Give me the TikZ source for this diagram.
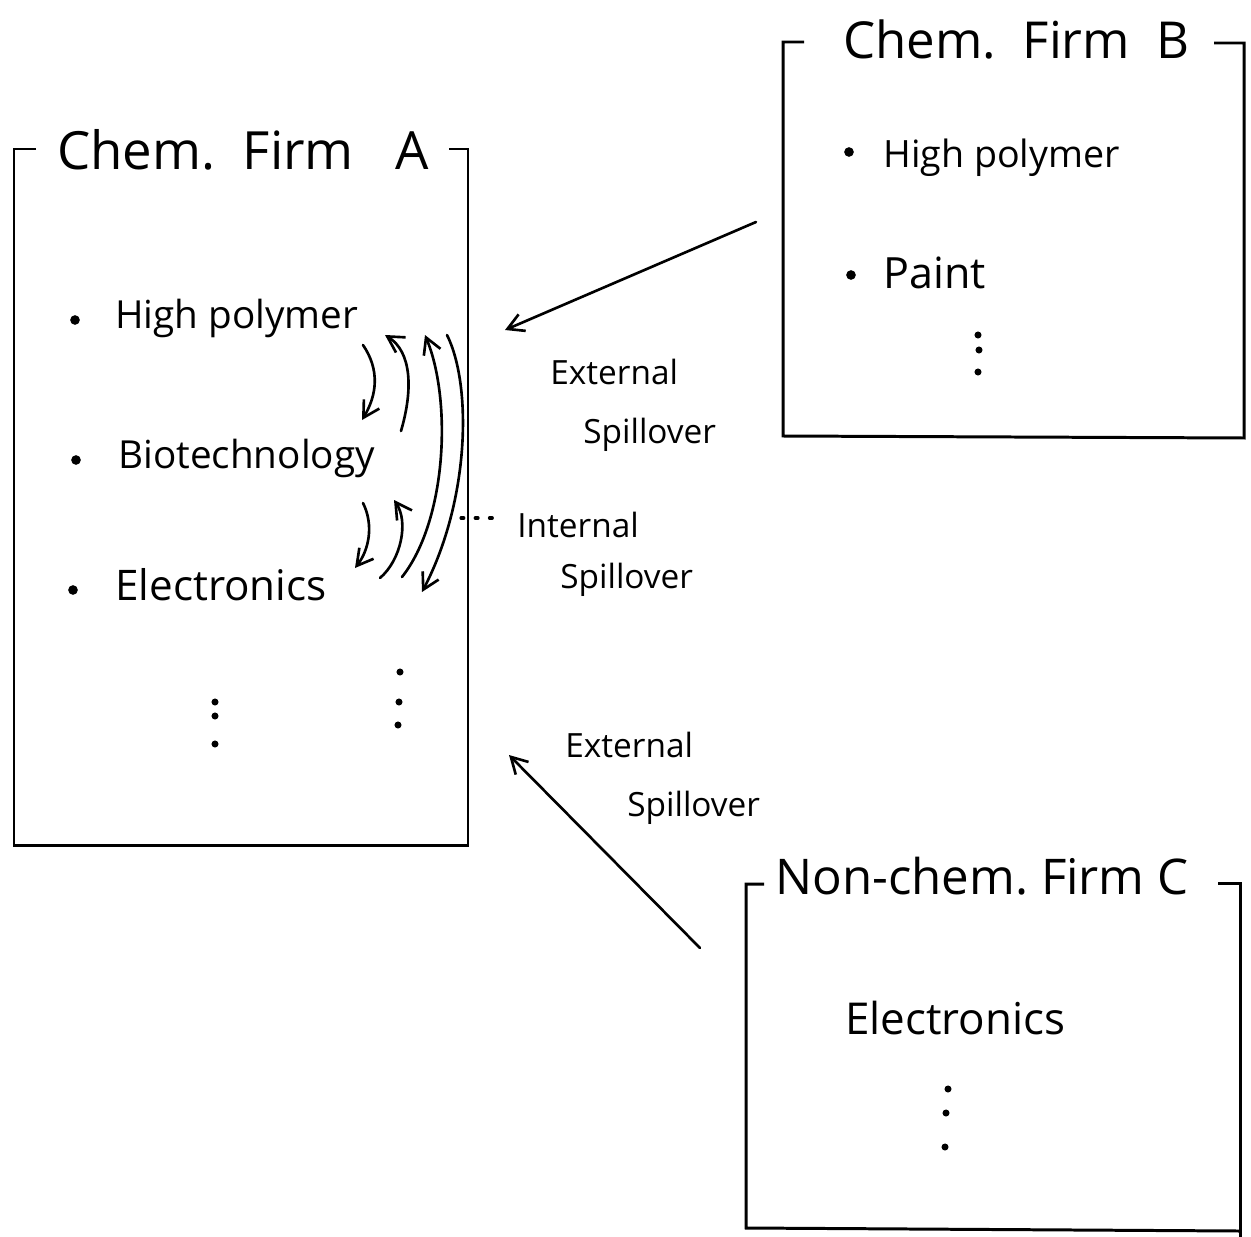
\documentclass[tikz,border=0pt]{standalone}
\usepackage{fontspec}
\setmainfont{Open Sans}
\usetikzlibrary{arrows.meta}
\begin{document}
\begin{tikzpicture}[x=0.02cm,y=-0.02cm,
  frame/.style={line width=1.7pt,line join=miter},
  hand/.style={line width=1.5pt,line cap=round},
  harrow/.style={hand,-{Straight Barb[length=3.2mm,width=3.6mm]}},
  title/.style={anchor=west,inner sep=0pt,font=\fontsize{30}{35}\selectfont},
  item/.style={anchor=west,inner sep=0pt,font=\fontsize{22}{26}\selectfont},
  lab/.style={anchor=west,inner sep=0pt,font=\fontsize{19}{23}\selectfont},
  bulletdot/.style={circle,fill,inner sep=0pt,minimum size=5.5pt},
  vdot/.style={circle,fill,inner sep=0pt,minimum size=4pt}]
\useasboundingbox (0,0) rectangle (1251,1237);

% ---------- Box A ----------
\draw[frame] (36,149) -- (14,149) -- (14,845) -- (468,845) -- (468,149) -- (449,149);
\node[title] (tA) at (57,150) {Chem.\ \ Firm\ \ \ A};
\node[bulletdot] (bA1) at (75,320) {};
\node[item] (hpA) at (115,318) {High polymer};
\node[bulletdot] (bA2) at (76,460) {};
\node[item] (bioA) at (118,458) {Biotechnology};
\node[bulletdot] (bA3) at (73,590) {};
\node[item,font=\fontsize{24}{28}\selectfont] (elA) at (115,585) {Electronics};
\node[vdot] (dA1) at (215,702) {};
\node[vdot] (dA2) at (215,716) {};
\node[vdot] (dA3) at (215,744) {};
\node[vdot] (dA4) at (400,672) {};
\node[vdot] (dA5) at (399,702) {};
\node[vdot] (dA6) at (398,725) {};

% internal spillover arrows
\coordinate (a1s) at (363,345); \coordinate (a1e) at (362,420);
\coordinate (a2s) at (401,431); \coordinate (a2e) at (385,335);
\coordinate (a3s) at (363,503); \coordinate (a3e) at (355,568);
\coordinate (a4s) at (380,578); \coordinate (a4e) at (394,500);
\coordinate (a5s) at (402,577); \coordinate (a5e) at (425,335);
\coordinate (a6s) at (447,335); \coordinate (a6e) at (422,592);
\draw[harrow] (a1s) .. controls (380,370) and (377,395) .. (a1e);
\draw[harrow] (a2s) .. controls (413,390) and (412,352) .. (a2e);
\draw[harrow] (a3s) .. controls (374,525) and (369,550) .. (a3e);
\draw[harrow] (a4s) .. controls (401,560) and (409,522) .. (a4e);
\draw[harrow] (a5s) .. controls (447,520) and (452,400) .. (a5e);
\draw[harrow] (a6s) .. controls (472,385) and (470,500) .. (a6e);

% internal spillover label
\coordinate (ds) at (461,518); \coordinate (de) at (501,518);
\draw[line width=1.8pt,dash pattern=on 1.6pt off 6.5pt,line cap=round] (ds) -- (de);
\node[lab] (int1) at (517,525) {Internal};
\node[lab] (int2) at (560,580) {Spillover};

% ---------- Box B ----------
\draw[frame] (804,42) -- (783,42) -- (783,436) -- (1244,438) -- (1244,43) -- (1214,43);
\node[title,font=\fontsize{29}{34}\selectfont] (tB) at (843,40) {Chem.\ \ Firm\ \ B};
\node[bulletdot] (bB1) at (849,152) {};
\node[item,font=\fontsize{21.4}{25}\selectfont] (hpB) at (883,158) {High polymer};
\node[bulletdot] (bB2) at (851,275) {};
\node[item,font=\fontsize{24.5}{29}\selectfont] (paB) at (883,273) {Paint};
\node[vdot] (dB1) at (978,335) {};
\node[vdot] (dB2) at (979,350) {};
\node[vdot] (dB3) at (978,372) {};

% external spillover from B
\coordinate (eBs) at (756,222); \coordinate (eBe) at (505,330);
\draw[harrow] (eBs) -- (eBe);
\node[lab] (ext1) at (550,372) {External};
\node[lab] (ext2) at (583,435) {Spillover};

% ---------- Box C ----------
\draw[frame] (764,884) -- (746,884) -- (746,1228) -- (1239,1231);
\draw[frame] (1218,883) -- (1240,883) -- (1240,1237);
\node[title,font=\fontsize{28}{33}\selectfont] (tC) at (775,876) {Non-chem.\ Firm\ C};
\node[item,font=\fontsize{25}{29}\selectfont] (elC) at (845,1018) {Electronics};
\node[vdot] (dC1) at (948,1089) {};
\node[vdot] (dC2) at (946,1113) {};
\node[vdot] (dC3) at (945,1147) {};

% external spillover from C
\coordinate (eCs) at (700,948); \coordinate (eCe) at (509,755);
\draw[harrow] (eCs) -- (eCe);
\node[lab] (ext3) at (565,745) {External};
\node[lab] (ext4) at (627,808) {Spillover};
\end{tikzpicture}
\end{document}
